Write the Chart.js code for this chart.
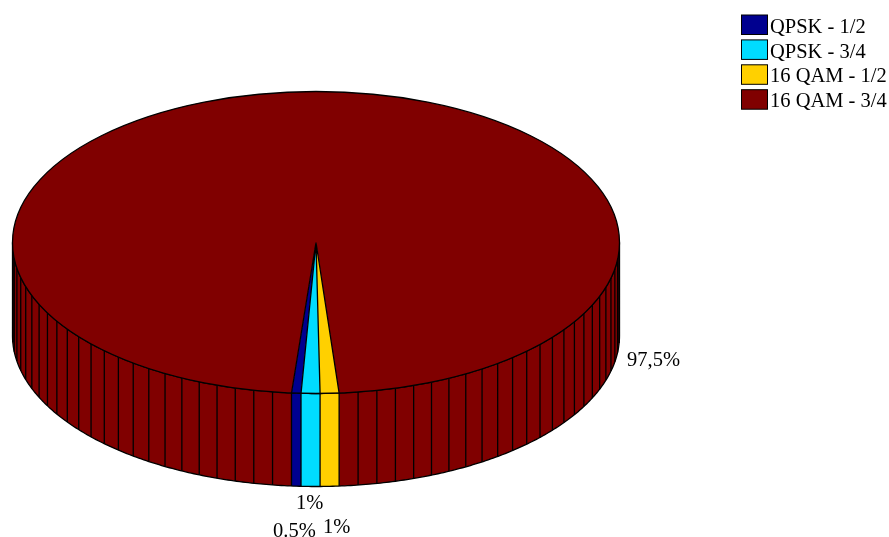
<!DOCTYPE html>
<html>
<head>
<meta charset="utf-8">
<title>Modulation share</title>
<script src="https://cdn.jsdelivr.net/npm/chart.js@4"></script>
<style>
    html, body { margin: 0; padding: 0; background: #fff; overflow: hidden; }
    canvas { display: block; }
</style>
</head>
<body>
<canvas id="modChart" width="889" height="537"></canvas>
<script>
const categories = ['QPSK - 1/2', 'QPSK - 3/4', '16 QAM - 1/2', '16 QAM - 3/4'];
const shares = [0.5, 1, 1, 97.5];
const shareLabels = ['0.5%', '1%', '1%', '97,5%'];
const sliceColors = ['#00008f', '#00dcff', '#ffd000', '#800000'];

// where the pie sits on the page once tilted
const disc = { cx: 316, cy: 242.5, rx: 303.5, ry: 151, depth: 93 };
const facetStep = 3.6 * Math.PI / 180;
const LINE = 1.3;
const labelSpots = [[273, 536.5], [296, 509], [323, 533], [627, 366]];
const legendBox = { x: 741.5, y: 15, w: 26, h: 19.5, rowStep: 24.9, textX: 770, textDrop: 17.6 };
const FONT = '20.5px "Liberation Serif", "Times New Roman", serif';

// chart angle -> page position (x is mirrored so slices run counter-clockwise)
function rimPoint(angle, drop) {
    return [
        disc.cx - disc.rx * Math.cos(angle),
        disc.cy + disc.ry * Math.sin(angle) + (drop || 0)
    ];
}

function traceRim(ctx, from, to, drop, moveFirst) {
    const steps = Math.max(2, Math.ceil(Math.abs(to - from) / 0.01));
    for (let i = 0; i <= steps; i++) {
        const p = rimPoint(from + (to - from) * i / steps, drop);
        if (i === 0 && moveFirst) ctx.moveTo(p[0], p[1]);
        else ctx.lineTo(p[0], p[1]);
    }
}

// only the part of a slice between 0 and PI faces the viewer
function frontParts(arc) {
    const parts = [];
    for (const turn of [0, 2 * Math.PI]) {
        const from = Math.max(arc.startAngle, turn);
        const to = Math.min(arc.endAngle, turn + Math.PI);
        if (to > from) parts.push([from, to]);
    }
    return parts;
}

function drawWalls(chart) {
    const ctx = chart.ctx;
    const arcs = chart.getDatasetMeta(0).data;
    ctx.lineWidth = LINE;
    ctx.strokeStyle = '#000';

    arcs.forEach((arc, i) => {
        frontParts(arc).forEach(([from, to]) => {
            ctx.beginPath();
            traceRim(ctx, from, to, 0, true);
            traceRim(ctx, to, from, disc.depth, false);
            ctx.closePath();
            ctx.fillStyle = sliceColors[i];
            ctx.fill();
        });
    });

    // vertical facet lines, walked in from both edges of each slice
    ctx.beginPath();
    arcs.forEach(arc => {
        const half = (arc.endAngle - arc.startAngle) / 2;
        for (let k = 0; k * facetStep <= half + 1e-6; k++) {
            for (const a of [arc.startAngle + k * facetStep, arc.endAngle - k * facetStep]) {
                if (Math.sin(a) < 0) continue;
                const p = rimPoint(a, 0);
                ctx.moveTo(p[0], p[1]);
                ctx.lineTo(p[0], p[1] + disc.depth);
            }
        }
    });
    ctx.stroke();

    // lower rim and the two side edges
    ctx.beginPath();
    traceRim(ctx, 0, Math.PI, 0, true);
    traceRim(ctx, Math.PI, 0, disc.depth, false);
    ctx.closePath();
    ctx.stroke();
}

function drawOutlines(chart) {
    const ctx = chart.ctx;
    const arcs = chart.getDatasetMeta(0).data;
    ctx.lineWidth = LINE;
    ctx.strokeStyle = '#000';

    ctx.beginPath();
    ctx.ellipse(disc.cx, disc.cy, disc.rx, disc.ry, 0, 0, 2 * Math.PI);
    ctx.stroke();

    ctx.beginPath();
    arcs.forEach(arc => {
        const p = rimPoint(arc.startAngle, 0);
        ctx.moveTo(disc.cx, disc.cy);
        ctx.lineTo(p[0], p[1]);
    });
    ctx.stroke();
}

function drawTexts(chart) {
    const ctx = chart.ctx;
    ctx.font = FONT;
    ctx.textAlign = 'left';
    ctx.textBaseline = 'alphabetic';
    ctx.fillStyle = '#000';
    shareLabels.forEach((txt, i) => {
        ctx.fillText(txt, labelSpots[i][0], labelSpots[i][1]);
    });

    chart.data.labels.forEach((name, i) => {
        const y = legendBox.y + i * legendBox.rowStep;
        ctx.fillStyle = sliceColors[i];
        ctx.fillRect(legendBox.x, y, legendBox.w, legendBox.h);
        ctx.strokeStyle = '#000';
        ctx.lineWidth = 1;
        ctx.strokeRect(legendBox.x, y, legendBox.w, legendBox.h);
        ctx.fillStyle = '#000';
        ctx.fillText(name, legendBox.textX, y + legendBox.textDrop);
    });
}

const tiltedPie = {
    id: 'tiltedPie',
    beforeDatasetsDraw(chart) {
        drawWalls(chart);
        const arc = chart.getDatasetMeta(0).data[0];
        const ctx = chart.ctx;
        ctx.save();
        ctx.translate(disc.cx, disc.cy);
        ctx.scale(-disc.rx / arc.outerRadius, disc.ry / arc.outerRadius);
        ctx.translate(-arc.x, -arc.y);
    },
    afterDatasetsDraw(chart) {
        chart.ctx.restore();
        drawOutlines(chart);
        drawTexts(chart);
    }
};

new Chart(document.getElementById('modChart').getContext('2d'), {
    type: 'pie',
    data: {
        labels: categories,
        datasets: [{
            data: shares,
            backgroundColor: sliceColors,
            borderWidth: 0,
            clip: false
        }]
    },
    options: {
        responsive: false,
        animation: false,
        rotation: 175.37,
        plugins: {
            legend: { display: false },
            tooltip: { enabled: false }
        }
    },
    plugins: [tiltedPie]
});
</script>
</body>
</html>
